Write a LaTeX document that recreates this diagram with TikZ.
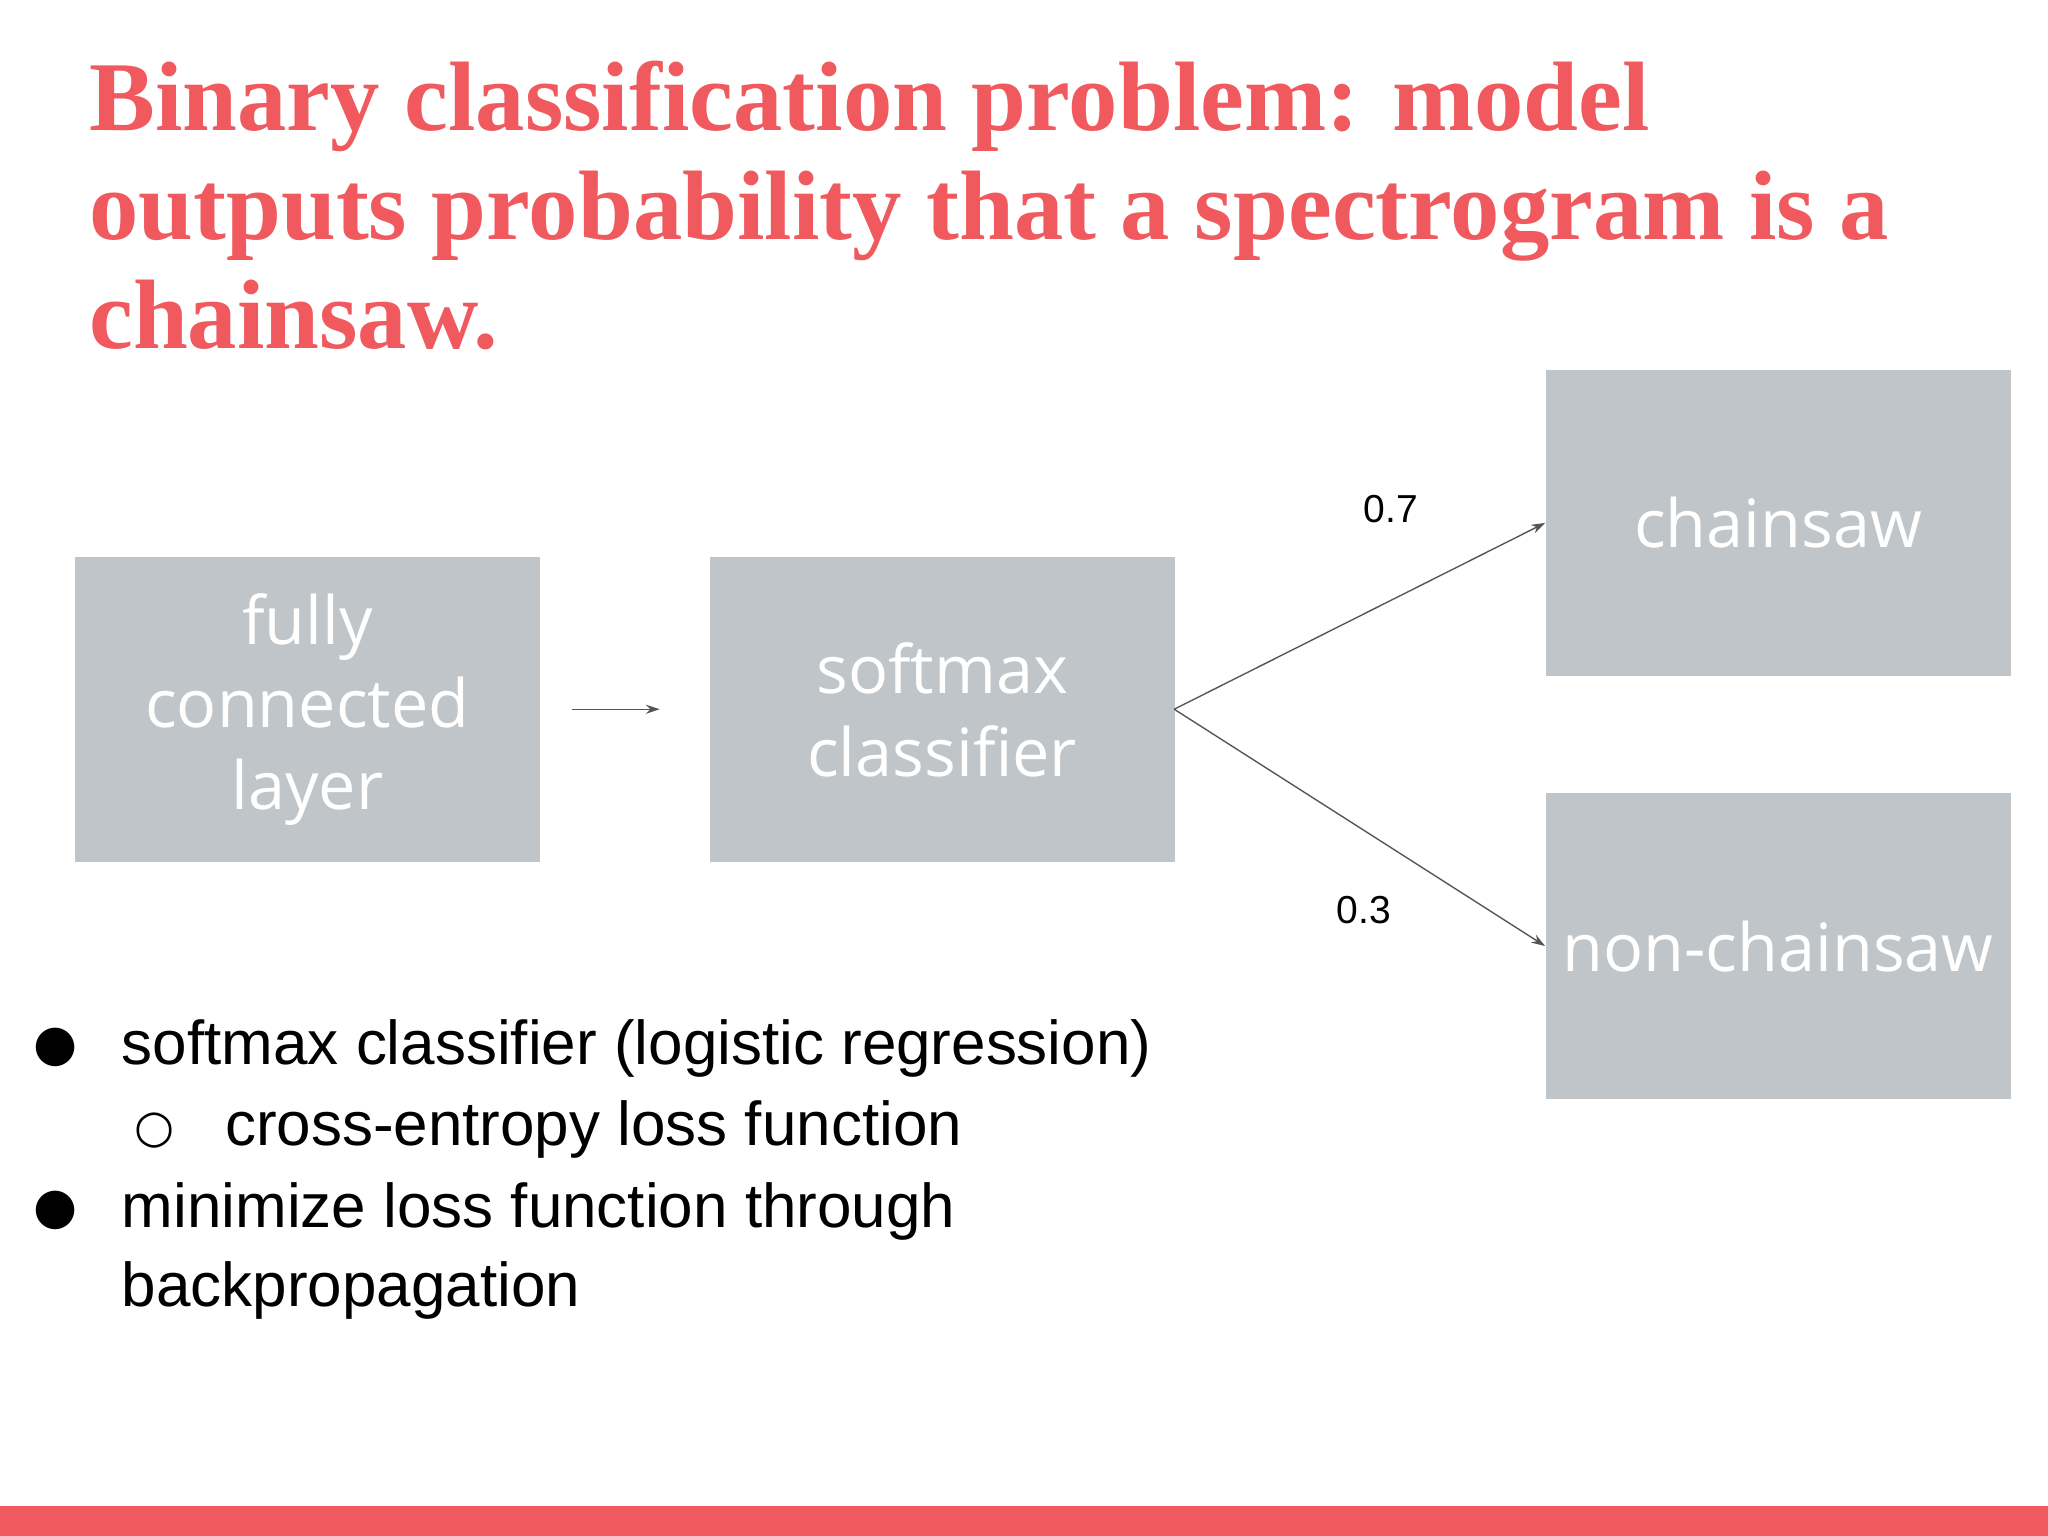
\documentclass[tikz,border=0pt]{standalone}
\usepackage{fontspec}
\setmainfont{Liberation Sans}
\newfontfamily\titlefont{Liberation Serif}
\newfontfamily\boxfont{Open Sans}
\newfontfamily\symfont{DejaVu Sans}
\usetikzlibrary{arrows.meta}
\definecolor{tred}{HTML}{F05A5E}
\definecolor{boxgray}{HTML}{C0C5C9}
\definecolor{lngray}{HTML}{555555}
\tikzset{
 gbox/.style={fill=boxgray,draw=none,minimum width=7.12cm,minimum height=4.68cm,anchor=north west,inner sep=0pt,text=white,align=center,font=\boxfont\fontsize{29}{36}\selectfont},
 conn/.style={draw=lngray,line width=0.6pt,-{Stealth[length=6pt,width=4pt]}},
 lbl/.style={font=\fontsize{17}{20}\selectfont,inner sep=0pt},
 btxt/.style={anchor=base west,inner sep=0pt,font=\fontsize{27}{32}\selectfont}
}
\begin{document}
\begin{tikzpicture}[x=0.02cm,y=-0.02cm]
\useasboundingbox (0,0) rectangle (1568,1176);
\fill[white] (0,0) rectangle (1568,1176);
\fill[tred] (0,1153) rectangle (1568,1176);
\node[anchor=base west,inner sep=0pt,text=tred,font=\titlefont\bfseries\fontsize{43}{48}\selectfont] (t1) at (68,100) {Binary classification problem: model};
\node[anchor=base west,inner sep=0pt,text=tred,font=\titlefont\bfseries\fontsize{43}{48}\selectfont] (t2) at (68,183) {outputs probability that a spectrogram is a};
\node[anchor=base west,inner sep=0pt,text=tred,font=\titlefont\bfseries\fontsize{43}{48}\selectfont] (t3) at (68,267) {chainsaw.};
\node[gbox] (fc) at (57,426) {fully\\connected\\layer};
\node[gbox] (sm) at (543,426) {softmax\\classifier};
\node[gbox] (cs) at (1183,283) {chainsaw};
\node[gbox] (nc) at (1183,607) {non-chainsaw};
\coordinate (a1) at (438,543);
\coordinate (a2) at (505,543);
\draw[conn] (a1) -- (a2);
\coordinate (sr) at (899,543);
\draw[conn] (sr) -- (cs.west);
\draw[conn] (sr) -- (nc.west);
\node[lbl] (l1) at (1065,390) {0.7};
\node[lbl] (l2) at (1044,697) {0.3};
\node[btxt,font=\symfont\fontsize{22}{26}\selectfont] (b1) at (25,812) {●};
\node[btxt] (s1) at (93,815) {softmax classifier (logistic regression)};
\node[btxt,font=\symfont\fontsize{20}{26}\selectfont] (b2) at (103,875) {○};
\node[btxt] (s2) at (172,877) {cross-entropy loss function};
\node[btxt,font=\symfont\fontsize{22}{26}\selectfont] (b3) at (25,937) {●};
\node[btxt] (s3) at (93,940) {minimize loss function through};
\node[btxt] (s4) at (93,1000) {backpropagation};
\end{tikzpicture}
\end{document}
